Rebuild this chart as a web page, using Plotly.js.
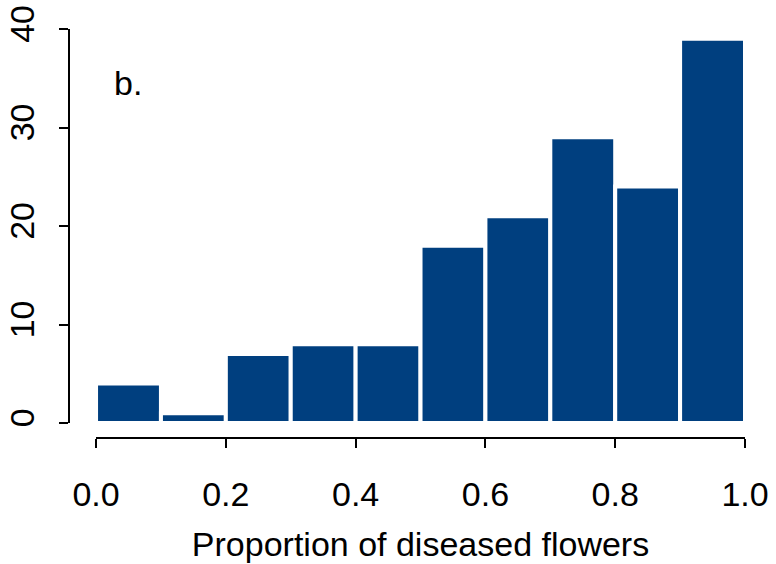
<!DOCTYPE html>
<html>
<head>
<meta charset="utf-8">
<script src="https://cdn.plot.ly/plotly-3.0.1.min.js"></script>
<style>html,body{margin:0;padding:0;background:#fff;}#chart{width:776px;height:564px;}</style>
</head>
<body>
<div id="chart"></div>
<script>
const binEdges = [0.0, 0.1, 0.2, 0.3, 0.4, 0.5, 0.6, 0.7, 0.8, 0.9, 1.0];
const counts = [4, 1, 7, 8, 8, 18, 21, 29, 24, 39];
const xTickVals = [0, 0.2, 0.4, 0.6, 0.8, 1.0];
const xTickText = ['0.0', '0.2', '0.4', '0.6', '0.8', '1.0'];
const yTickVals = [0, 10, 20, 30, 40];
const yTickText = ['0', '10', '20', '30', '40'];
const xTitle = 'Proportion of diseased flowers';
const panelLabel = 'b.';

const mids = counts.map((c, i) => (binEdges[i] + binEdges[i + 1]) / 2);
const widths = counts.map((c, i) => binEdges[i + 1] - binEdges[i]);

const FONT = 'Liberation Sans, Arial, Helvetica, sans-serif';

const trace = {
  type: 'bar',
  x: mids,
  y: counts,
  width: widths,
  marker: { color: '#003f7f', line: { color: '#ffffff', width: 4 } },
  hoverinfo: 'x+y'
};

const layout = {
  width: 776, height: 564,
  margin: { l: 69, r: 31, t: 29, b: 126 },
  paper_bgcolor: '#ffffff', plot_bgcolor: '#ffffff',
  showlegend: false,
  font: { family: FONT, size: 34, color: '#000000' },
  bargap: 0,
  xaxis: {
    domain: [0.04, 1],
    range: [0, 1],
    anchor: 'free', position: 0,
    showgrid: false, zeroline: false,
    showline: true, linecolor: '#000', linewidth: 2,
    ticks: 'outside', ticklen: 9, tickwidth: 2, tickcolor: '#000',
    tickvals: xTickVals, ticktext: xTickText,
    tickfont: { family: FONT, size: 34, color: '#000' },
    ticklabelstandoff: 17,
    title: { text: xTitle, font: { family: FONT, size: 34, color: '#000' }, standoff: 19 }
  },
  yaxis: {
    domain: [15 / 409, 1],
    range: [0, 40],
    anchor: 'free', position: 0,
    showgrid: false, zeroline: false,
    showline: true, linecolor: '#000', linewidth: 2,
    ticks: 'outside', ticklen: 9, tickwidth: 2, tickcolor: '#000',
    tickvals: yTickVals, ticktext: yTickText,
    tickangle: -90,
    tickfont: { family: FONT, size: 34, color: '#000' },
    ticklabelstandoff: 11
  },
  annotations: [{
    text: panelLabel, xref: 'x', yref: 'y', x: 0.025, y: 34.5,
    xanchor: 'left', yanchor: 'middle', showarrow: false,
    font: { family: FONT, size: 34, color: '#000' }
  }]
};

Plotly.newPlot('chart', [trace], layout, { displayModeBar: false, staticPlot: true });
</script>
</body>
</html>
